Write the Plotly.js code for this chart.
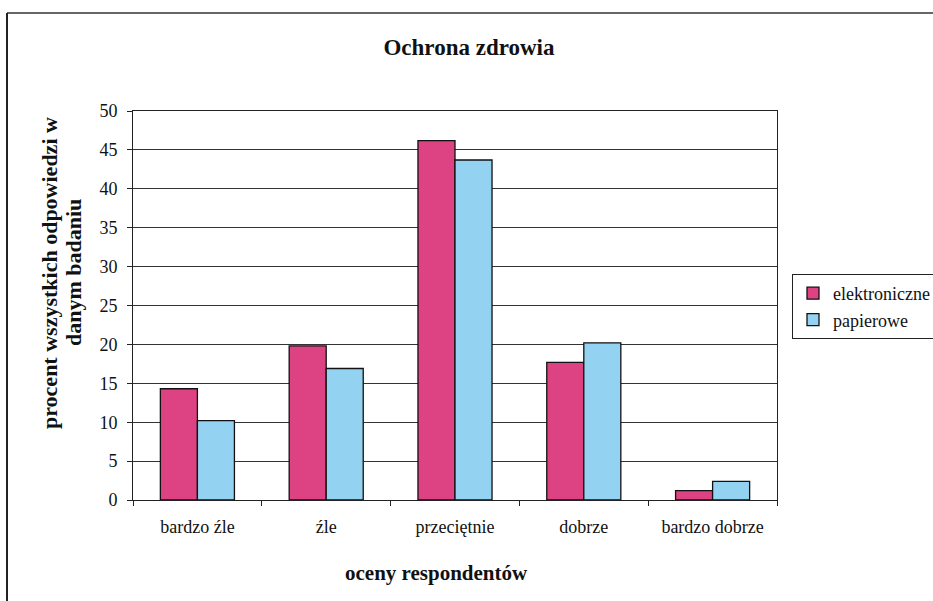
<!DOCTYPE html>
<html>
<head>
<meta charset="utf-8">
<script src="https://cdn.plot.ly/plotly-3.0.1.min.js"></script>
<style>html,body{margin:0;padding:0;background:#fff;}#chart{width:933px;height:601px;}</style>
</head>
<body>
<div id="chart"></div>
<script>
const categories = ["bardzo źle", "źle", "przeciętnie", "dobrze", "bardzo dobrze"];
const elektroniczne = [14.3, 19.8, 46.2, 17.7, 1.2];
const papierowe = [10.2, 16.9, 43.7, 20.2, 2.4];
const seriesNames = ["elektroniczne", "papierowe"];
const yTicks = [0, 5, 10, 15, 20, 25, 30, 35, 40, 45, 50];

const FAM = "Liberation Serif";

const traces = [
  {type: "bar", name: seriesNames[0], x: categories, y: elektroniczne, legendgroup: "a",
   marker: {color: "#dd4383", line: {color: "#111", width: 1.3}}},
  {type: "bar", name: seriesNames[1], x: categories, y: papierowe, legendgroup: "b",
   marker: {color: "#93d2f0", line: {color: "#111", width: 1.3}}}
];

const layout = {
  width: 933, height: 601,
  margin: {l: 133, r: 156, t: 111, b: 101, autoexpand: false},
  paper_bgcolor: "#fff", plot_bgcolor: "#fff",
  font: {family: FAM, color: "#111", size: 18},
  barmode: "group", bargap: 0.425, bargroupgap: 0,
  title: {text: "<b>Ochrona zdrowia</b>", x: (469-133)/644, xref: "paper", xanchor: "center",
          y: 1 - 47/601, yanchor: "middle",
          font: {family: FAM, size: 23, color: "#111"}},
  xaxis: {type: "category", showline: true, linecolor: "#222", linewidth: 1, mirror: true,
          ticks: "outside", tickson: "boundaries", ticklen: 5, tickcolor: "#222",
          ticklabelstandoff: 10,
          tickfont: {family: FAM, size: 18, color: "#111"}, showgrid: false, fixedrange: true},
  yaxis: {range: [0, 50], tickvals: yTicks, ticktext: yTicks.map(String),
          showline: true, linecolor: "#222", linewidth: 1, mirror: true,
          ticks: "outside", ticklen: 5, tickcolor: "#222", ticklabelstandoff: 6,
          showgrid: true, gridcolor: "#333", gridwidth: 1, zeroline: false,
          tickfont: {family: FAM, size: 18, color: "#111"}, fixedrange: true},
  legend: {x: (792-133)/644, y: (500-274)/389, xanchor: "left", yanchor: "top",
           bordercolor: "#222", borderwidth: 1, bgcolor: "#fff", itemwidth: 30,
           font: {family: FAM, size: 18, color: "#111"}, tracegroupgap: 7, traceorder: "normal"},
  annotations: [
    {text: "<b>procent wszystkich odpowiedzi w</b>", xref: "paper", yref: "paper",
     x: (49-133)/644, y: (500-273)/389, xanchor: "center", yanchor: "middle", textangle: -90, showarrow: false,
     font: {family: FAM, size: 22, color: "#111"}},
    {text: "<b>danym badaniu</b>", xref: "paper", yref: "paper",
     x: (73-133)/644, y: (500-273)/389, xanchor: "center", yanchor: "middle", textangle: -90, showarrow: false,
     font: {family: FAM, size: 22, color: "#111"}},
    {text: "<b>oceny respondentów</b>", xref: "paper", yref: "paper",
     x: (436-133)/644, y: (500-573)/389, xanchor: "center", yanchor: "middle", showarrow: false,
     font: {family: FAM, size: 21, color: "#111"}}
  ],
  shapes: [
    {type: "line", xref: "paper", yref: "paper", x0: (7-133)/644, x1: (933-133)/644,
     y0: (500-13)/389, y1: (500-13)/389, line: {color: "#333", width: 1.5}},
    {type: "line", xref: "paper", yref: "paper", x0: (7-133)/644, x1: (7-133)/644,
     y0: (500-13)/389, y1: (500-601)/389, line: {color: "#222", width: 2}}
  ]
};

Plotly.newPlot("chart", traces, layout, {displayModeBar: false});
</script>
</body>
</html>
